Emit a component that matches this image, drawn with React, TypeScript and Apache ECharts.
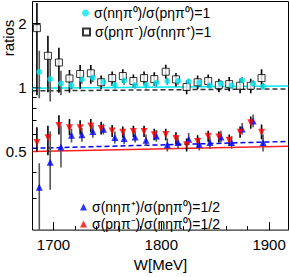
import React, { useEffect, useRef } from "react";
import * as echarts from "echarts";

// W positions (MeV) of the two families of points
const W_A = [1686.8, 1696.9, 1706.9, 1716.7, 1726.3, 1736.5, 1746.3, 1756.9, 1765.5, 1775.7, 1785.8, 1795.4, 1805.6, 1815.5, 1825.4, 1835.2, 1845.1, 1855.3, 1865.2, 1875.0, 1885.2, 1894.4];
const W_B = [1684.6, 1694.8, 1705.0, 1714.8, 1724.7, 1734.6, 1744.2, 1754.4, 1764.3, 1774.1, 1784.0, 1793.5, 1804.1, 1813.6, 1823.5, 1833.7, 1843.5, 1853.4, 1863.0, 1873.1, 1883.0, 1893.0];

// sigma(n eta pi0)/sigma(p eta pi0)  (cyan circles)
const cyanVal = [1.184, 1.095, 1.044, 1.026, 1.090, 1.112, 1.062, 1.026, 1.077, 1.023, 1.026, 1.051, 1.072, 1.072, 1.067, 1.053, 1.021, 1.042, 1.021, 1.081, 1.042, 1.012];
const cyanLo = [0.89, 0.86, 0.92, 0.98, 1.04, 1.06, 1.02, 0.99, 1.03, 0.99, 0.99, 1.01, 1.03, 1.03, 1.03, 1.01, 0.99, 1.0, 0.99, 1.04, 1.0, 0.98];
const cyanHi = [1.49, 1.36, 1.2, 1.08, 1.14, 1.16, 1.1, 1.07, 1.12, 1.06, 1.06, 1.09, 1.11, 1.11, 1.1, 1.09, 1.06, 1.08, 1.06, 1.12, 1.08, 1.05];

// sigma(p eta pi-)/sigma(n eta pi+)  (open squares)
const sqVal = [1.903, 1.41, 1.311, 1.103, 1.158, 1.166, 1.058, 1.107, 1.132, 1.073, 1.107, 1.095, 1.186, 1.092, 1.005, 1.058, 1.073, 1.026, 1.037, 1.019, 1.019, 1.107];
const sqLo = [0.92, 0.95, 0.945, 0.945, 0.985, 1.04, 0.98, 1.02, 1.05, 1.0, 1.03, 1.02, 1.1, 1.01, 0.93, 0.98, 1.0, 0.95, 0.96, 0.94, 0.94, 1.0];
const sqHi = [2.5, 1.75, 1.54, 1.21, 1.275, 1.275, 1.14, 1.19, 1.22, 1.15, 1.19, 1.18, 1.28, 1.17, 1.08, 1.14, 1.15, 1.1, 1.12, 1.1, 1.1, 1.22];

// sigma(n eta pi+)/sigma(p eta pi0)  (blue up triangles)
const blueVal = [0.339, 0.444, 0.524, 0.595, 0.599, 0.621, 0.636, 0.581, 0.575, 0.585, 0.565, 0.591, 0.537, 0.55, 0.571, 0.541, 0.55, 0.585, 0.55, 0.638, 0.695, 0.55];
const blueLo = [0.2, 0.33, 0.42, 0.55, 0.555, 0.58, 0.6, 0.545, 0.54, 0.55, 0.53, 0.555, 0.5, 0.515, 0.535, 0.505, 0.515, 0.55, 0.515, 0.6, 0.65, 0.5];
const blueHi = [0.44, 0.62, 0.66, 0.64, 0.645, 0.665, 0.675, 0.62, 0.615, 0.625, 0.6, 0.63, 0.575, 0.59, 0.61, 0.58, 0.59, 0.625, 0.59, 0.68, 0.745, 0.6];

// sigma(p eta pi-)/sigma(n eta pi0)  (red down triangles)
const redVal = [0.55, 0.579, 0.663, 0.646, 0.646, 0.659, 0.641, 0.623, 0.616, 0.62, 0.62, 0.599, 0.601, 0.575, 0.537, 0.556, 0.589, 0.585, 0.565, 0.616, 0.683, 0.616];
const redLo = [0.5, 0.48, 0.6, 0.595, 0.6, 0.615, 0.6, 0.585, 0.58, 0.585, 0.585, 0.565, 0.565, 0.54, 0.5, 0.52, 0.555, 0.55, 0.53, 0.58, 0.64, 0.57];
const redHi = [0.65, 0.66, 0.74, 0.71, 0.7, 0.71, 0.69, 0.665, 0.655, 0.66, 0.66, 0.64, 0.64, 0.615, 0.575, 0.595, 0.625, 0.62, 0.6, 0.655, 0.73, 0.67];

// fitted lines (end points)
const fitW = [1680.5, 1918];
const cyanFit = [0.992, 1.016];
const blackFit = [0.964, 0.985];
const blueFit = [0.517, 0.557];
const redFit = [0.499, 0.529];

const xMajor = [1700, 1800, 1900];
const xMinor = [1700, 1720, 1740, 1760, 1780, 1800, 1820, 1840, 1860, 1880, 1900];
const yMajor = [0.5, 1, 2];
const yMinor = [0.3, 0.4, 0.6, 0.7, 0.8, 0.9];

const names = {
  cyan: "σ(nηπ⁰)/σ(pηπ⁰)=1",
  sq: "σ(pηπ⁻)/σ(nηπ⁺)=1",
  blue: "σ(nηπ⁺)/σ(pηπ⁰)=1/2",
  red: "σ(pηπ⁻)/σ(nηπ⁰)=1/2",
};

const X_MIN = 1680.5;
const X_MAX = 1918;
const Y_MIN = 0.213;
const Y_MAX = 2.54;

const FONT = "Liberation Sans, Arial, Helvetica, sans-serif";

function pts(xs: number[], ys: number[]) {
  return xs.map((x, i) => [x, ys[i]]);
}
function errs(xs: number[], lo: number[], hi: number[]) {
  return xs.map((x, i) => [x, lo[i], hi[i]]);
}

function errorSeries(data: number[][], color: string) {
  return {
    type: "custom",
    clip: true,
    silent: true,
    z: 2,
    data,
    encode: { x: 0, y: [1, 2] },
    renderItem: (params: any, api: any) => {
      const x = api.value(0);
      const p1 = api.coord([x, api.value(1)]);
      const p2 = api.coord([x, api.value(2)]);
      return {
        type: "line",
        shape: { x1: p1[0], y1: p1[1], x2: p2[0], y2: p2[1] },
        style: { stroke: color, lineWidth: 1.6 },
      };
    },
  };
}

function fitLine(ys: number[], color: string, dashed: boolean) {
  return {
    type: "line",
    data: pts(fitW, ys),
    symbol: "none",
    silent: true,
    z: 1,
    lineStyle: { color, width: 1.5, type: dashed ? [5, 3] : "solid" },
  };
}

export default function App() {
  const ref = useRef<HTMLDivElement>(null);
  useEffect(() => {
    if (!ref.current) return;
    const chart = echarts.init(ref.current, null, { renderer: "svg" });
    const baseX = {
      type: "value",
      min: X_MIN,
      max: X_MAX,
      splitLine: { show: false },
      axisLine: { show: false },
    };
    const baseY = {
      type: "log",
      logBase: 2,
      min: Y_MIN,
      max: Y_MAX,
      splitLine: { show: false },
      axisLine: { show: false },
    };
    const legendCommon = {
      orient: "vertical",
      itemWidth: 7,
      itemHeight: 7,
      itemGap: 0,
      padding: 0,
      selectedMode: false,
      textStyle: { fontFamily: FONT, fontSize: 14, color: "#000" },
    };
    chart.setOption({
      animation: false,
      backgroundColor: "#fff",
      grid: {
        left: 32.5,
        right: 1.5,
        top: 1.5,
        bottom: 36,
        show: true,
        borderColor: "#000",
        borderWidth: 1,
      },
      xAxis: [
        {
          ...baseX,
          name: "W[MeV]",
          nameLocation: "middle",
          nameGap: 19,
          nameTextStyle: { fontFamily: FONT, fontSize: 15, color: "#000" },
          axisTick: { show: true, inside: true, length: 8, customValues: xMajor, lineStyle: { color: "#000" } },
          axisLabel: {
            customValues: xMajor,
            margin: 7,
            fontFamily: FONT,
            fontSize: 15,
            color: "#000",
            formatter: (v: number) => String(Math.round(v)),
          },
        },
        {
          ...baseX,
          position: "bottom",
          axisTick: { show: true, inside: true, length: 4, customValues: xMinor, lineStyle: { color: "#000" } },
          axisLabel: { show: false },
        },
      ],
      yAxis: [
        {
          ...baseY,
          axisTick: { show: true, inside: true, length: 8, customValues: yMajor, lineStyle: { color: "#000" } },
          axisLabel: {
            customValues: yMajor,
            margin: 6,
            fontFamily: FONT,
            fontSize: 15,
            color: "#000",
            formatter: (v: number) => String(v),
          },
        },
        {
          ...baseY,
          position: "left",
          axisTick: { show: true, inside: true, length: 4, customValues: yMinor, lineStyle: { color: "#000" } },
          axisLabel: { show: false },
        },
      ],
      legend: [
        { ...legendCommon, left: 82, top: 6, data: [names.cyan] },
        { ...legendCommon, left: 82, top: 25, data: [names.sq] },
        { ...legendCommon, left: 80, top: 200, data: [names.blue] },
        { ...legendCommon, left: 80, top: 217, data: [names.red] },
      ],
      graphic: [
        {
          type: "text",
          x: 8,
          y: 38,
          rotation: Math.PI / 2,
          style: {
            text: "ratios",
            fontFamily: FONT,
            fontSize: 15,
            fill: "#000",
            textAlign: "center",
            textVerticalAlign: "middle",
          },
        },
      ],
      series: [
        fitLine(blackFit, "#333", true),
        fitLine(cyanFit, "#00e8f0", false),
        fitLine(blueFit, "#0000ff", true),
        fitLine(redFit, "#ff2020", false),
        errorSeries(errs(W_A, cyanLo, cyanHi), "#555"),
        errorSeries(errs(W_B, sqLo, sqHi), "#000"),
        errorSeries(errs(W_A, blueLo, blueHi), "#555"),
        errorSeries(errs(W_B, redLo, redHi), "#000"),
        {
          type: "scatter",
          name: names.sq,
          data: pts(W_B, sqVal),
          symbol: "rect",
          symbolSize: 7,
          z: 3,
          itemStyle: { color: "#fff", borderColor: "#000", borderWidth: 1 },
        },
        {
          type: "scatter",
          name: names.cyan,
          data: pts(W_A, cyanVal),
          symbol: "circle",
          symbolSize: 6,
          z: 4,
          itemStyle: { color: "#00e8f0" },
        },
        {
          type: "scatter",
          name: names.blue,
          data: pts(W_A, blueVal),
          symbol: "triangle",
          symbolSize: 7,
          z: 4,
          itemStyle: { color: "#0000ff" },
        },
        {
          type: "scatter",
          name: names.red,
          data: pts(W_B, redVal),
          symbol: "triangle",
          symbolRotate: 180,
          symbolSize: 7,
          z: 4,
          itemStyle: { color: "#ff0000" },
        },
      ],
    } as any);
    return () => chart.dispose();
  }, []);
  return <div ref={ref} style={{ width: 290, height: 277, position: "absolute", left: 0, top: 0 }} />;
}
